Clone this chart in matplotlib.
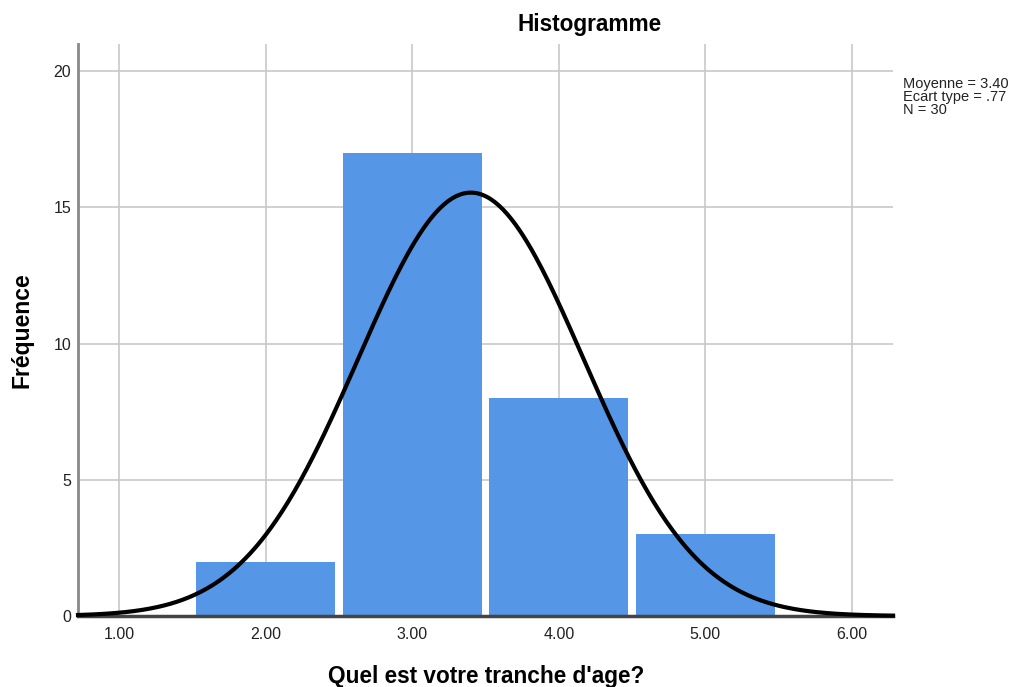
import numpy as np
import matplotlib
matplotlib.use("Agg")
import matplotlib.pyplot as plt

plt.rcParams['font.family'] = ['Liberation Sans', 'DejaVu Sans']

bin_centers = [2.0, 3.0, 4.0, 5.0]
counts = [2, 17, 8, 3]
mean = 3.40
sd = 0.77
n = 30
xticks = [1.0, 2.0, 3.0, 4.0, 5.0, 6.0]
xtick_labels = ["1.00", "2.00", "3.00", "4.00", "5.00", "6.00"]
yticks = [0, 5, 10, 15, 20]

fig = plt.figure(figsize=(10.15, 6.87), dpi=100)
ax = fig.add_axes([78/1015, 1-616/687, (893-78)/1015, (616-44)/687])

ax.set_xlim(0.72, 6.28)
ax.set_ylim(0, 21)
ax.set_xticks(xticks)
ax.set_xticklabels(xtick_labels)
ax.set_yticks(yticks)
ax.grid(True, color='#c8c8c8', linewidth=1.2)
ax.set_axisbelow(True)

ax.bar(bin_centers, counts, width=0.95, color='#5596e6', edgecolor='none', zorder=2)

xs = np.linspace(0.72, 6.28, 400)
ys = n * 1.0 * np.exp(-0.5*((xs-mean)/sd)**2) / (sd*np.sqrt(2*np.pi))
ax.plot(xs, ys, color='black', linewidth=3, zorder=3, clip_on=False)

for s in ['top', 'right']:
    ax.spines[s].set_visible(False)
ax.spines['left'].set_color('#888888')
ax.spines['left'].set_linewidth(2)
ax.spines['bottom'].set_color('#444444')
ax.spines['bottom'].set_linewidth(2.5)
ax.tick_params(length=0, labelsize=11.5, colors='#222222')
ax.tick_params(axis='y', pad=5)
ax.tick_params(axis='x', pad=8)

fig.text(486/1015, 1-676/687, "Quel est votre tranche d'age?", ha='center', va='center',
         fontsize=16.3, fontweight='bold')
fig.text(22/1015, 1-330/687, "Fréquence", ha='center', va='center', rotation=90,
         fontsize=16.5, fontweight='bold')

fig.text(590/1015, 1-25/687, "Histogramme", ha='center', va='center', fontsize=16.3, fontweight='bold')
fig.text(903/1015, 1-97/687, "Moyenne = 3.40\nEcart type = .77\nN = 30", ha='left', va='center',
         fontsize=10.5, linespacing=0.91, color='#222222')

fig.savefig("out.png", dpi=100)
